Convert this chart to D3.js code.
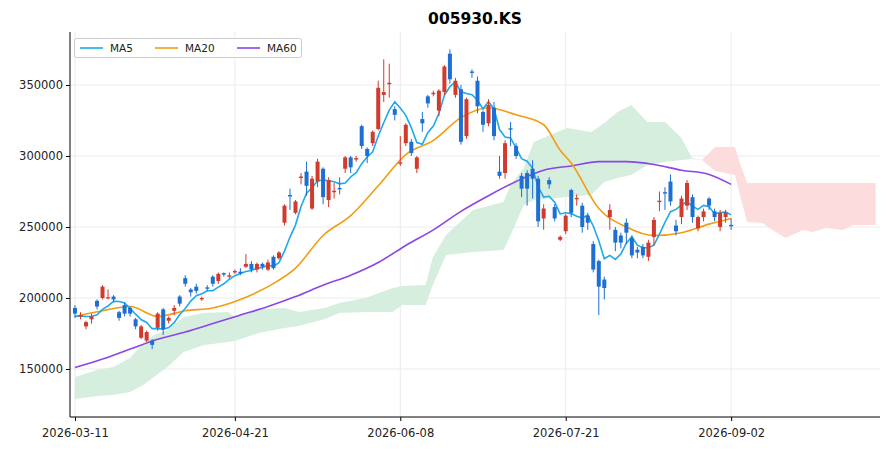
<!DOCTYPE html>
<html><head><meta charset="utf-8">
<script src="https://cdn.jsdelivr.net/npm/d3@7"></script>
<style>body{margin:0;background:#fff}svg{font-family:"DejaVu Sans",sans-serif}</style>
</head><body><svg id="c" width="891" height="451"></svg>
<script>
const title = "005930.KS";
const tickIdx = [0, 29, 59, 89, 119];
const tickLabels = ["2026-03-11", "2026-04-21", "2026-06-08", "2026-07-21", "2026-09-02"];
const yTicks = [150000, 200000, 250000, 300000, 350000];
// OHLC in thousands KRW
const opens = [193,187,180,185,198,200,200,201,190,195,193,185,172,170,170,179,192,184,191,201,214,206,208,199,207.5,215,212,217.5,215,218,218.5,222,224,220,224,220,229,228,253,272.5,260,284.5,289,263,282,291,269,274.5,277.5,291,299,297.5,321,305,309,319,343,350.5,333,294.5,309,310,291,326,342,343.5,332,345,372,343,347,314,359.5,353,331,323,334,289,288,319.5,307,286,288,291,284,256,283,264,241,247,276,269.5,265,258,238,226,213,257,248,244,253,242,234,236,229,243,267.5,274.5,282,251,257,265,271,249,257,270,261,250,257,251.5];
const closes = [189,188,183,187,194,208,200.5,199,186,189,189,180,180,176,167,189,178,186,193,196,210,204,205,200,206.5,210,217,216.5,216,219,217.5,224,220,224,222,225,221,232,265,271.5,268,285.5,279,284,296,271,283,275.5,276.5,299,292,298.5,307,300,317,348,345,351.5,329,295.5,322,302,299,323,337,344.5,346,363,354,353,310,340,358.5,335,322,336,314,286,309,318.5,300,277,277,284,254,263,280,256,243,258,260,270.5,250,253,220,208,207,262,239,239,246,230,232,230,239,255,268.5,273.5,268,247,270,281,257,257,261,265,257,260,260,250.5];
const highs = [195,190,184,189,199,209,206,202,191,197,194,186,181,177,171,190,193,187,195,202,216,207,210,201,209,216,218,218,218,220,221,231,226,225,225,227,230,233,266,277,269,288,296,286,298,292,285,281,285,300,300,300,322,306,318,353,368,365,335,314,323,312,300,331,343,346,347,364,375,355,350,341,361,356,332,340,338,300,311,324,309,288,290,297,286,266,285,266,244,259,277,273,267,260,240,227,215,266,250,246,256,244,236,238,241,257,275,278,287,255,272,283,273,258,263,271,263,262,262,256];
const lows = [186,185,178,182,192,199,199,197,184,187,187,178,171,169,164,177,174,182,188,194,208,201,203,198,205,208,210,215,214,217,216,221,218,218,220,219,220,227,251,262,259,280,272,262,278,266,264,270,273,288,288,296,305,295,307,318,338,341,325,293,307,300,288,317,334,342,328,343,351,341,308,312,355,330,317,321,311,284,284,307,298,271,265,270,250,248,277,254,240,245,257,265,246,248,218,188,199,248,233,235,238,228,228,228,226,237,261,262,265,244,252,262,253,247,254,262,254,247,253,248];
const priorCloses = [186,185,187,188];
// MA20 / MA60 read at sample indices
const maIdx = [0,5,10,15,20,25,30,35,40,45,50,55,60,65,70,75,80,85,88,90,95,100,105,110,115,119];
const ma20 = [187,191,194,187,191,193,199,208,221,244,258,279,301,311,327,334,329,322,304,295,263,250,244,246,252,256];
const ma60Idx = [0,5,10,15,20,25,30,35,40,45,50,55,60,65,70,75,80,85,90,95,100,105,110,115,119];
const ma60 = [151,157,164,171,176,182,188,194,201,209,216,225,237,248,261,272,282,290,293,296,296,294,290,287,280];
// Ichimoku cloud edges (index, upper, lower), thousands
const greenIdx = [0,4,7,10,12.4,14.3,16.8,19.7,23.4,27.8,28.9,33.3,38,40.6,45.3,47.9,52.7,57.6,59.4,63.6,64.9,67.3,72.2,77.7,79,81.4,83.2,89.2,93.6,96,98.4,100.9,103.8,107,110,111.9,113.7];
const greenUp = [144.4,149.3,151.4,157.7,168.3,173.9,177.5,186.6,189.4,190.1,186.6,192.2,192.9,190.1,192.9,196.5,200,207,208.4,209.1,228.8,244.3,261.9,267.6,279.5,291.5,309.8,319.7,316.8,323.2,330.9,335.9,323.9,323.9,312.6,298.5,297.1];
const greenLo = [128.9,131,131.7,133.8,138.7,144.4,151.4,162,166.9,169,169.7,175.3,178.9,180.3,185.2,189.4,190.1,190.1,195.1,195.1,209.1,230.3,232.4,233.8,244.3,265.5,269,271.1,272.5,281.6,284.5,286.6,293.6,295.7,297.1,297.8,297.1];
const redIdx = [113.7,116.1,119.7,120.7,121.9,124.7,126.5,128.9,132,133.8,136.2,139.3,141.1,145.2];
const redUp = [297.1,306.3,306.3,293.6,280.9,280.9,280.9,280.9,280.9,280.9,280.9,280.9,280.9,280.9];
const redLo = [297.1,289.4,286.6,271.1,253.5,252.8,247.9,242.2,247.9,246.4,249.3,247.9,251.4,251.4];

const svg = d3.select("#c");
const L=70,R=880,T=32,B=417;
const x = d3.scaleLinear().domain([-0.9,146.0]).range([L,R]);
const y = d3.scaleLinear().domain([116200,387300]).range([B,T]);
const K=1000;

// grid
svg.append("g").selectAll("line").data(yTicks).join("line")
  .attr("x1",L).attr("x2",R).attr("y1",d=>y(d)).attr("y2",d=>y(d)).attr("stroke","#ebebeb");
svg.append("g").selectAll("line").data(tickIdx).join("line")
  .attr("x1",d=>x(d)).attr("x2",d=>x(d)).attr("y1",T).attr("y2",B).attr("stroke","#ebebeb");

// cloud
function cloud(ix,up,lo,col){
  const pts = ix.map((d,i)=>({i:d,u:up[i]*K,l:lo[i]*K}));
  svg.append("path").datum(pts).attr("fill",col)
    .attr("d",d3.area().x(d=>x(d.i)).y0(d=>y(d.l)).y1(d=>y(d.u)));
}
cloud(greenIdx,greenUp,greenLo,"#d6eedd");
cloud(redIdx,redUp,redLo,"#fcdcdc");

// MA lines
const allC = priorCloses.concat(closes);
const ma5 = closes.map((c,i)=>d3.mean(allC.slice(i,i+5))*K);
const line = d3.line().curve(d3.curveMonotoneX);
svg.append("path").attr("fill","none").attr("stroke","#8a46e6").attr("stroke-width",1.6)
  .attr("d",line(ma60Idx.map((d,i)=>[x(d),y(ma60[i]*K)])));
svg.append("path").attr("fill","none").attr("stroke","#f39c12").attr("stroke-width",1.6)
  .attr("d",line(maIdx.map((d,i)=>[x(d),y(ma20[i]*K)])));
svg.append("path").attr("fill","none").attr("stroke","#1fa9ec").attr("stroke-width",1.6)
  .attr("d",d3.line()(ma5.map((v,i)=>[x(i),y(v)])));

// candles
const cd = closes.map((c,i)=>({i,o:opens[i]*K,c:c*K,h:highs[i]*K,l:lows[i]*K}));
const col = d=>d.c>=d.o?"#d13b2e":"#1e6fd3";
const g = svg.append("g");
g.selectAll("line").data(cd).join("line")
  .attr("x1",d=>x(d.i)).attr("x2",d=>x(d.i)).attr("y1",d=>y(d.h)).attr("y2",d=>y(d.l))
  .attr("stroke",col).attr("stroke-width",1);
g.selectAll("rect").data(cd).join("rect")
  .attr("x",d=>x(d.i)-2).attr("width",4)
  .attr("y",d=>y(Math.max(d.o,d.c)))
  .attr("height",d=>Math.max(1.2,Math.abs(y(d.o)-y(d.c))))
  .attr("fill",col);

// axes
const ya = svg.append("g").attr("transform",`translate(${L},0)`)
  .call(d3.axisLeft(y).tickValues(yTicks).tickFormat(d3.format("d")).tickSize(4));
const xa = svg.append("g").attr("transform",`translate(0,${B})`)
  .call(d3.axisBottom(x).tickValues(tickIdx).tickFormat((d,i)=>tickLabels[i]).tickSize(4));
[ya,xa].forEach(a=>{a.select(".domain").remove();a.selectAll("text").attr("font-size",11.5).attr("fill","#222").style("font-family","DejaVu Sans");});
xa.selectAll("text").attr("dy","1.1em");
svg.append("line").attr("x1",L).attr("x2",L).attr("y1",T).attr("y2",B).attr("stroke","#000");
svg.append("line").attr("x1",L).attr("x2",R).attr("y1",B).attr("y2",B).attr("stroke","#000");

// title
svg.append("text").attr("x",(L+R)/2).attr("y",24).attr("text-anchor","middle")
  .attr("font-size",15.5).attr("font-weight","bold").text(title);

// legend
const lg = svg.append("g");
lg.append("rect").attr("x",74.5).attr("y",38.5).attr("width",227).attr("height",19).attr("rx",2)
  .attr("fill","#fff").attr("fill-opacity",0.85).attr("stroke","#ccc");
const items=[["MA5","#1fa9ec",80],["MA20","#f39c12",155],["MA60","#8a46e6",237]];
items.forEach(([t,c,x0])=>{
  lg.append("line").attr("x1",x0).attr("x2",x0+23).attr("y1",48).attr("y2",48).attr("stroke",c).attr("stroke-width",1.6);
  lg.append("text").attr("x",x0+30).attr("y",52).attr("font-size",10.5).attr("fill","#222").text(t);
});
</script></body></html>
